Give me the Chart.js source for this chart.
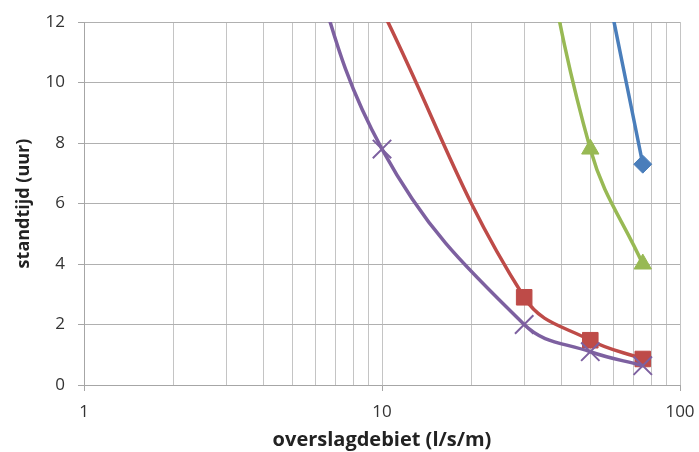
<!DOCTYPE html>
<html>
  <head>
    <title>Standtijd vs overslagdebiet</title>
    <script src="https://cdn.jsdelivr.net/npm/chart.js"></script>
    <style>
      body { margin: 0; background: #fff; }
      #wrap { width: 699px; height: 452px; }
    </style>
  </head>
  <body>
    <div id="wrap"><canvas id="myChart"></canvas></div>
    <script>
      // overslagdebiet (l/s/m) vs standtijd (uur), one list per curve
      const blueX = [30, 50, 75];
      const blueY = [28, 16, 7.3];
      const redX = [10, 30, 50, 75];
      const redY = [12.4, 2.9, 1.48, 0.86];
      const greenX = [30, 50, 75];
      const greenY = [18, 7.8, 4.0];
      const purpleX = [5, 10, 30, 50, 75];
      const purpleY = [16, 7.8, 2.0, 1.1, 0.64];

      const xTicks = [1, 2, 3, 4, 5, 6, 7, 8, 9, 10, 20, 30, 40, 50, 60, 70, 80, 90, 100];
      const xLabels = [1, 10, 100];

      function toPoints(xs, ys) {
        return xs.map((x, i) => ({ x: x, y: ys[i] }));
      }

      function series(xs, ys, color, style, radius, bw) {
        return {
          data: toPoints(xs, ys),
          borderColor: color,
          backgroundColor: color,
          borderWidth: 3.5,
          pointStyle: style,
          pointRadius: radius,
          pointHoverRadius: radius,
          pointBorderWidth: bw,
          showLine: true,
          tension: 0.4,
          clip: 0,
        };
      }

      const gridGray = "#c4c4c4";
      const font = "'Open Sans', 'DejaVu Sans', sans-serif";

      const config = {
        type: "scatter",
        data: {
          datasets: [
            series(purpleX, purpleY, "#7d60a0", "crossRot", 13, 2),
            series(greenX, greenY, "#98b954", "triangle", 10, 1),
            series(redX, redY, "#be4b48", "rect", 11, 1),
            series(blueX, blueY, "#4a7ebb", "rectRot", 9, 1),
          ],
        },
        options: {
          responsive: true,
          maintainAspectRatio: false,
          animation: false,
          layout: { padding: { top: 22, right: 19, left: 0, bottom: 0 } },
          plugins: {
            legend: { display: false },
            tooltip: { enabled: false },
          },
          scales: {
            x: {
              type: "logarithmic",
              min: 1,
              max: 100,
              afterBuildTicks: (s) => {
                s.ticks = xTicks.map((v) => ({ value: v, major: xLabels.includes(v) }));
              },
              afterFit: (s) => {
                s.height = 67;
                s.paddingLeft = 0;
                s.paddingRight = 0;
              },
              ticks: {
                autoSkip: false,
                maxRotation: 0,
                padding: 11,
                color: "#333",
                font: { family: font, size: 17 },
                callback: (v) => (xLabels.includes(v) ? String(v) : ""),
              },
              grid: {
                color: gridGray,
                lineWidth: 1,
                tickLength: 6,
                tickColor: (ctx) => (ctx.tick && xLabels.includes(ctx.tick.value) ? "#a6a6a6" : "rgba(0,0,0,0)"),
              },
              border: { color: "#a6a6a6", width: 1 },
              title: {
                display: true,
                text: "overslagdebiet (l/s/m)",
                color: "#222",
                font: { family: font, size: 20, weight: "bold" },
                padding: { top: 0, bottom: 0 },
              },
            },
            y: {
              min: 0,
              max: 12,
              afterFit: (s) => {
                s.width = 84;
                s.paddingTop = 0;
                s.paddingBottom = 0;
              },
              ticks: {
                stepSize: 2,
                padding: 13,
                color: "#333",
                font: { family: font, size: 17 },
              },
              grid: {
                color: "#b0b0b0",
                lineWidth: 1,
                tickLength: 6,
                tickColor: "#a6a6a6",
              },
              border: { color: "#a6a6a6", width: 1 },
              title: {
                display: true,
                text: "standtijd (uur)",
                color: "#222",
                font: { family: font, size: 18, weight: "bold" },
                padding: { top: 13, bottom: 0 },
              },
            },
          },
        },
      };

      var myChart = new Chart(document.getElementById("myChart"), config);
    </script>
  </body>
</html>
